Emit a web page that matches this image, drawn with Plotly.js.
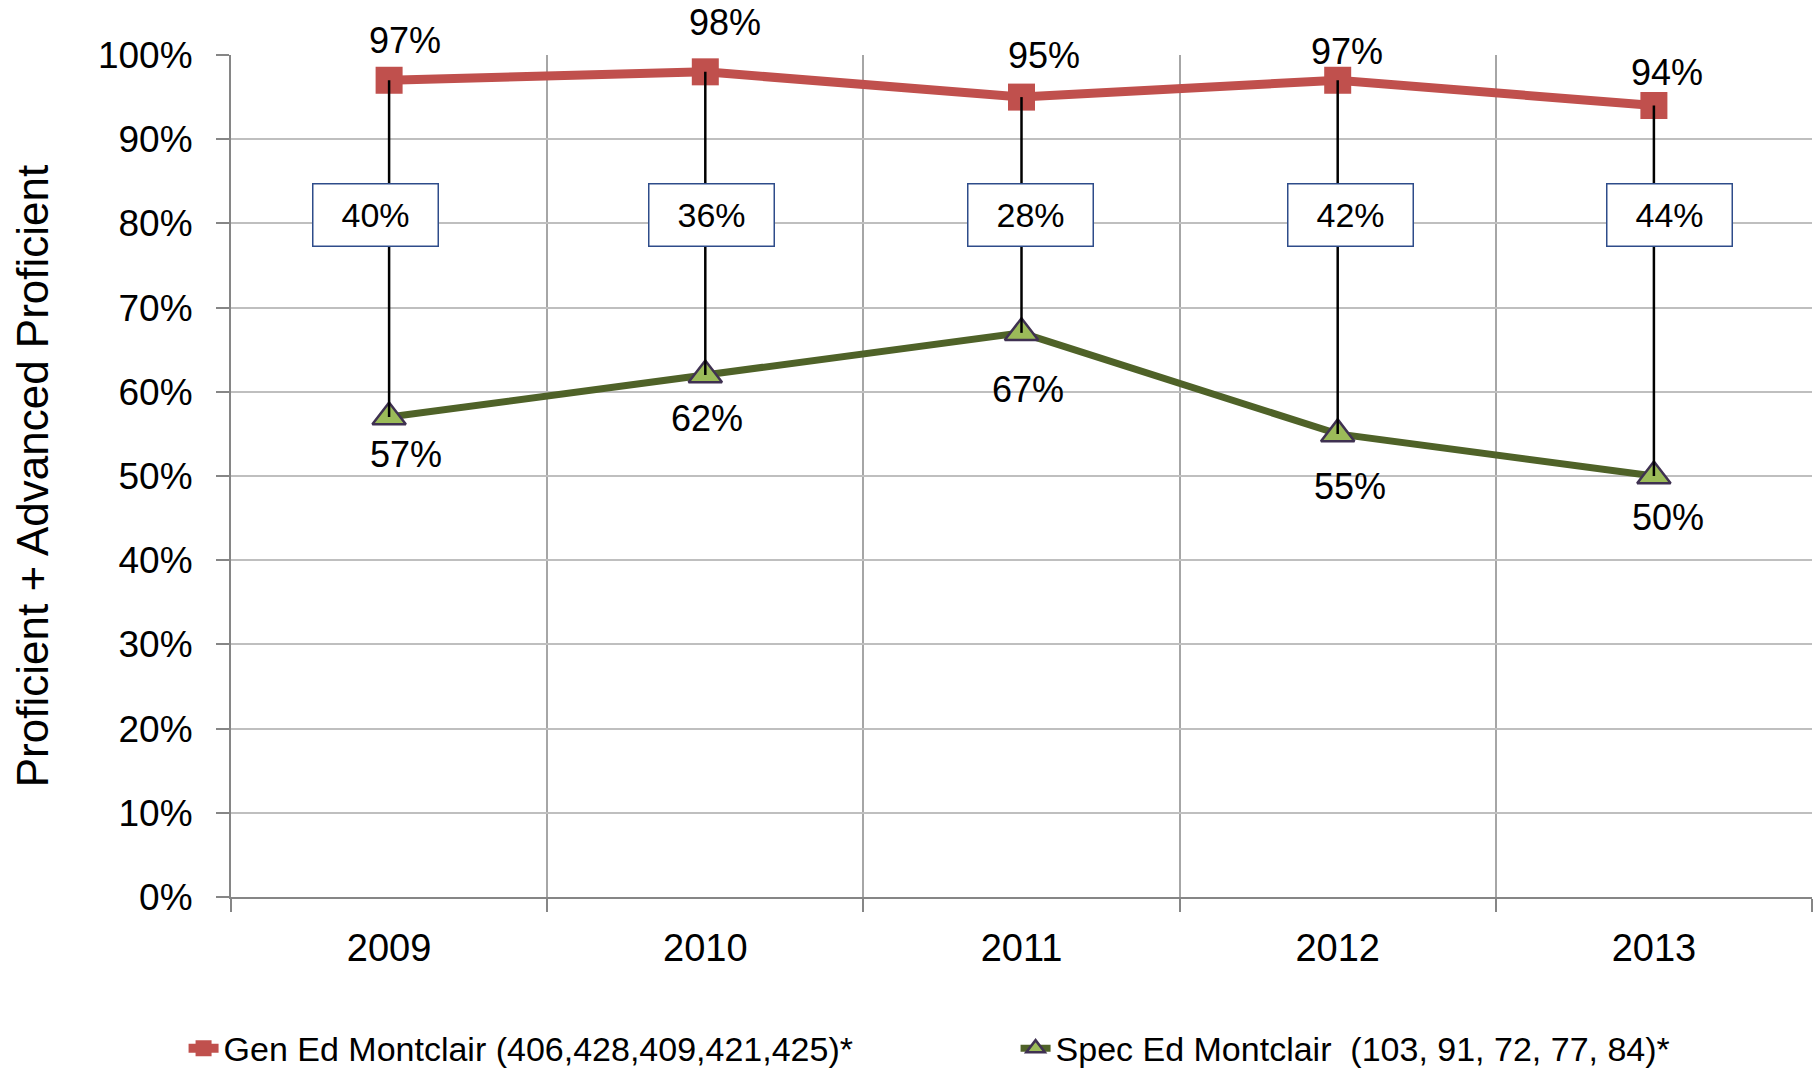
<!DOCTYPE html>
<html>
<head>
<meta charset="utf-8">
<script src="https://cdn.plot.ly/plotly-3.0.1.min.js"></script>
<style>html,body{margin:0;padding:0;background:#fff;}#chart{width:1818px;height:1069px;}</style>
</head>
<body>
<div id="chart"></div>
<script>
// ---- data ----
const years = ['2009', '2010', '2011', '2012', '2013'];
const genEd = [97, 98, 95, 97, 94];
const specEd = [57, 62, 67, 55, 50];
const genEdName = 'Gen Ed Montclair (406,428,409,421,425)*';
const specEdName = 'Spec Ed Montclair  (103, 91, 72, 77, 84)*';
const yAxisTitle = 'Proficient + Advanced Proficient';

// ---- label placement styles (pixel nudges) ----
const genLabelDx = [16, 20, 22, 9, 13];
const genLabelDy = [40, 49, 42, 29, 33];
const specLabelDx = [17, 2, 6, 12, 14];
const specLabelDy = [-37, -44, -57, -53, -41];
const gapBoxDx = [-14, 6, 9, 13, 16];

const FONT = '"Liberation Sans", Arial, sans-serif';
const RED = '#C0504D';
const GREEN_LINE = '#4F6228';
const GREEN_FILL = '#9BBB59';

// high-low connector segments built from the data
const hlX = [], hlY = [];
years.forEach((yr, i) => { hlX.push(yr, yr, null); hlY.push(genEd[i], specEd[i], null); });

const traces = [
  {
    x: years, y: genEd, name: genEdName, type: 'scatter', mode: 'lines+markers',
    line: {color: RED, width: 9},
    marker: {symbol: 'square', size: 27, color: RED, line: {color: RED, width: 0}},
    hoverinfo: 'x+y'
  },
  {
    x: years, y: specEd, name: specEdName, type: 'scatter', mode: 'lines+markers',
    line: {color: GREEN_LINE, width: 7},
    marker: {symbol: 'triangle-up', size: 29, color: GREEN_FILL, line: {color: '#3F3151', width: 2.5}},
    hoverinfo: 'x+y'
  },
  {
    x: hlX, y: hlY, type: 'scatter', mode: 'lines', showlegend: false,
    line: {color: '#000000', width: 2.5}, hoverinfo: 'skip'
  }
];

const annotations = [];
years.forEach((yr, i) => {
  annotations.push({
    x: i, y: genEd[i], xref: 'x', yref: 'y', text: genEd[i] + '%', showarrow: false,
    xanchor: 'center', yanchor: 'middle',
    xshift: genLabelDx[i], yshift: genLabelDy[i], font: {family: FONT, size: 36, color: '#000'}
  });
  annotations.push({
    x: i, y: specEd[i], xref: 'x', yref: 'y', text: specEd[i] + '%', showarrow: false,
    xanchor: 'center', yanchor: 'middle',
    xshift: specLabelDx[i], yshift: specLabelDy[i], font: {family: FONT, size: 36, color: '#000'}
  });
  annotations.push({
    x: i, y: 0.81, xref: 'x', yref: 'paper', text: (genEd[i] - specEd[i]) + '%', showarrow: false,
    xanchor: 'center', yanchor: 'middle',
    xshift: gapBoxDx[i], width: 124, height: 61, borderpad: 0, borderwidth: 1.5,
    bordercolor: '#2E4C8A', bgcolor: '#FFFFFF', font: {family: FONT, size: 34, color: '#000'}
  });
});

const layout = {
  width: 1818, height: 1069,
  paper_bgcolor: '#FFFFFF', plot_bgcolor: '#FFFFFF',
  margin: {l: 231, r: 6, t: 55, b: 172, autoexpand: false},
  font: {family: FONT, color: '#000'},
  showlegend: true,
  legend: {
    orientation: 'h', x: -0.03, xanchor: 'left', y: -0.18, yanchor: 'middle',
    font: {family: FONT, size: 34, color: '#000'}, entrywidth: 787, entrywidthmode: 'pixels',
    bgcolor: 'rgba(0,0,0,0)', itemclick: false
  },
  xaxis: {
    type: 'category', range: [-0.5, 4.5], tickson: 'boundaries',
    showgrid: true, gridcolor: '#A6A6A6', gridwidth: 2,
    showline: true, linecolor: '#868686', linewidth: 2,
    ticks: 'outside', ticklen: 13, tickcolor: '#868686', tickwidth: 2,
    tickfont: {family: FONT, size: 38, color: '#000'}, ticklabelstandoff: 16,
    zeroline: false, fixedrange: true
  },
  yaxis: {
    range: [0, 100], dtick: 10, tick0: 0, ticksuffix: '%',
    showgrid: true, gridcolor: '#BFBFBF', gridwidth: 2,
    showline: true, linecolor: '#868686', linewidth: 2,
    ticks: 'outside', ticklen: 13, tickcolor: '#868686', tickwidth: 2,
    tickfont: {family: FONT, size: 37, color: '#000'}, ticklabelstandoff: 16,
    zeroline: false, fixedrange: true,
    title: {text: yAxisTitle, font: {family: FONT, size: 44, color: '#000'}, standoff: 36}
  },
  annotations: annotations
};

Plotly.newPlot('chart', traces, layout, {displayModeBar: false, staticPlot: true});
</script>
</body>
</html>
